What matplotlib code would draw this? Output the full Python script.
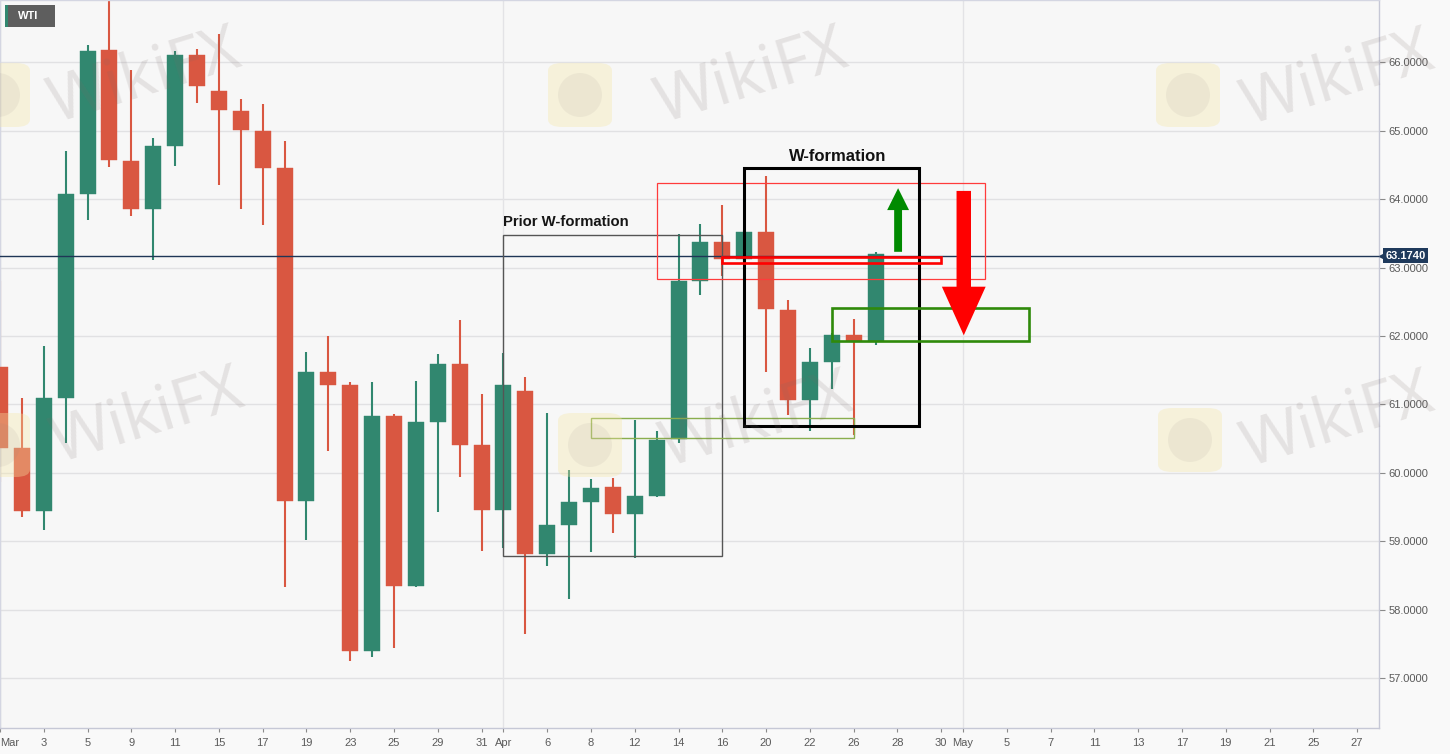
import numpy as np
import pandas as pd
import matplotlib
matplotlib.use("Agg")
import matplotlib.pyplot as plt
import matplotlib.transforms as mtransforms
from matplotlib.patches import Rectangle, Polygon, FancyBboxPatch, Ellipse

plt.rcParams['font.family'] = ['Liberation Sans', 'DejaVu Sans']

# ---------------- data ----------------
dates = ['2021-03-01', '2021-03-02', '2021-03-03', '2021-03-04', '2021-03-05',
         '2021-03-08', '2021-03-09', '2021-03-10', '2021-03-11', '2021-03-12',
         '2021-03-15', '2021-03-16', '2021-03-17', '2021-03-18', '2021-03-19',
         '2021-03-22', '2021-03-23', '2021-03-24', '2021-03-25', '2021-03-26',
         '2021-03-29', '2021-03-30', '2021-03-31', '2021-04-01', '2021-04-05',
         '2021-04-06', '2021-04-07', '2021-04-08', '2021-04-09', '2021-04-12',
         '2021-04-13', '2021-04-14', '2021-04-15', '2021-04-16', '2021-04-19',
         '2021-04-20', '2021-04-21', '2021-04-22', '2021-04-23', '2021-04-26',
         '2021-04-27']
opens = [61.54, 60.36, 59.44, 61.09, 64.07, 66.18, 64.56, 63.85, 64.78, 66.10,
         65.58, 65.29, 65.00, 64.45, 59.59, 61.47, 61.28, 57.40, 60.83, 58.35,
         60.74, 61.59, 60.40, 59.45, 61.19, 58.81, 59.23, 59.58, 59.79, 59.39,
         59.66, 60.49, 62.81, 63.38, 63.12, 63.52, 62.38, 61.07, 61.62, 62.02,
         61.93]
highs = [62.81, 61.09, 61.85, 64.70, 66.25, 67.40, 65.89, 64.89, 66.16, 66.19,
         66.41, 65.46, 65.39, 64.85, 61.76, 62.00, 61.32, 61.33, 60.86, 61.34,
         61.74, 62.23, 61.15, 61.75, 61.40, 60.87, 60.04, 59.91, 59.92, 60.77,
         60.61, 63.49, 63.63, 63.91, 63.55, 64.34, 62.52, 61.82, 62.05, 62.25,
         63.23]
lows = [59.87, 59.35, 59.17, 60.43, 63.69, 64.47, 63.76, 63.11, 64.49, 65.40,
        64.20, 63.86, 63.62, 58.33, 59.01, 60.32, 57.25, 57.30, 57.44, 58.33,
        59.42, 59.94, 58.86, 58.90, 57.65, 58.63, 58.15, 58.84, 59.12, 58.76,
        59.64, 60.43, 62.60, 62.88, 63.08, 61.48, 60.85, 60.61, 61.22, 60.55,
        61.87]
closes = [60.36, 59.44, 61.09, 64.07, 66.16, 64.57, 63.85, 64.78, 66.10, 65.66,
          65.30, 65.01, 64.45, 59.59, 61.47, 61.28, 57.40, 60.83, 58.35, 60.74,
          61.59, 60.40, 59.45, 61.28, 58.81, 59.23, 59.58, 59.78, 59.39, 59.66,
          60.48, 62.80, 63.38, 63.12, 63.52, 62.40, 61.07, 61.62, 62.02, 61.93,
          63.20]
last_price = 63.174

tick_dates = ['2021-03-01', '2021-03-03', '2021-03-05', '2021-03-09', '2021-03-11',
              '2021-03-15', '2021-03-17', '2021-03-19', '2021-03-23', '2021-03-25',
              '2021-03-29', '2021-03-31', '2021-04-01', '2021-04-06', '2021-04-08',
              '2021-04-12', '2021-04-14', '2021-04-16', '2021-04-20', '2021-04-22',
              '2021-04-26', '2021-04-28', '2021-04-30', '2021-05-03', '2021-05-05',
              '2021-05-07', '2021-05-11', '2021-05-13', '2021-05-17', '2021-05-19',
              '2021-05-21', '2021-05-25', '2021-05-27']
tick_labels = ['Mar', '3', '5', '9', '11', '15', '17', '19', '23', '25', '29', '31',
               'Apr', '6', '8', '12', '14', '16', '20', '22', '26', '28', '30',
               'May', '5', '7', '11', '13', '17', '19', '21', '25', '27']
month_starts = ['2021-03-01', '2021-04-01', '2021-05-03']
y_ticks = [57, 58, 59, 60, 61, 62, 63, 64, 65, 66]

# trading-day calendar (Good Friday closed)
cal = pd.bdate_range('2021-03-01', '2021-06-04')
cal = cal[cal != pd.Timestamp('2021-04-02')]
pos = {d.strftime('%Y-%m-%d'): i for i, d in enumerate(cal)}
def X(d):
    return pos[d]

GREEN = '#31876f'
RED = '#d95741'

W, H = 1450, 754
fig = plt.figure(figsize=(W / 100, H / 100), dpi=100, facecolor='#f9f9f9')
ax = fig.add_axes([0, 26 / H, 1379 / W, 728 / H])
ax.set_facecolor('#f7f7f7')
ax.set_xlim(0.0, 63.0)
ax.set_ylim(56.269, 66.911)

# grid
for yv in y_ticks:
    ax.axhline(yv, color='#e1e1e3', lw=1.0, zorder=0)
for m in month_starts:
    ax.axvline(X(m), color='#e3e3e6', lw=1.0, zorder=0)

# candles
xs = np.array([X(d) for d in dates])
o = np.array(opens); h = np.array(highs); l = np.array(lows); c = np.array(closes)
cols = np.where(c >= o, GREEN, RED)
ax.vlines(xs, l, h, colors=cols, lw=1.5, zorder=2)
ax.bar(xs, np.abs(c - o), bottom=np.minimum(o, c), width=0.73, color=cols,
       edgecolor=cols, lw=0.3, zorder=3)

# current price line
ax.axhline(last_price, color='#1f3656', lw=1.0, zorder=4)

# ---------- annotations ----------
def box(d0, d1, y0, y1, color, lw):
    ax.add_patch(Rectangle((X(d0), y0), X(d1) - X(d0), y1 - y0, fill=False,
                           edgecolor=color, lw=lw, zorder=6, clip_on=False))

box('2021-04-01', '2021-04-16', 58.79, 63.475, '#555555', 1.0)    # prior W
box('2021-04-13', '2021-05-04', 62.83, 64.23, '#ff3b3b', 0.9)     # red zone
box('2021-04-08', '2021-04-26', 60.51, 60.80, '#8aae4e', 1.0)     # thin green
box('2021-04-19', '2021-04-29', 60.68, 64.45, '#000000', 2.2)     # W-formation
box('2021-04-16', '2021-04-30', 63.07, 63.15, '#ff0000', 1.9)     # red bar
box('2021-04-23', '2021-05-06', 61.92, 62.41, '#2f8a0a', 1.9)     # green zone

# arrows (polygons in data units)
xg = X('2021-04-28') + 0.03
ax.add_patch(Polygon([(xg - 0.18, 63.23), (xg + 0.18, 63.23), (xg + 0.18, 63.84),
                      (xg + 0.50, 63.84), (xg, 64.16), (xg - 0.50, 63.84),
                      (xg - 0.18, 63.84)], closed=True, fc='#008a00', ec='none', zorder=7))
xr = X('2021-05-03') + 0.03
ax.add_patch(Polygon([(xr - 0.33, 64.12), (xr + 0.33, 64.12), (xr + 0.33, 62.72),
                      (xr + 1.00, 62.72), (xr, 62.01), (xr - 1.00, 62.72),
                      (xr - 0.33, 62.72)], closed=True, fc='#ff0000', ec='none', zorder=7))

ax.text(X('2021-04-01'), 63.607, 'Prior W-formation', ha='left', va='baseline',
        fontsize=10.7, fontweight='bold', color='#161616', zorder=8)
ax.text(38.29, 64.562, 'W-formation', ha='center', va='baseline',
        fontsize=12, fontweight='bold', color='#111111', zorder=8)

# ---------- axes styling ----------
for s in ['left', 'top']:
    ax.spines[s].set_color('#d4d6e2'); ax.spines[s].set_linewidth(1.0)
for s in ['right', 'bottom']:
    ax.spines[s].set_color('#c6c8d6'); ax.spines[s].set_linewidth(1.0)

ax.yaxis.tick_right()
ax.set_yticks(y_ticks)
ax.set_yticklabels(['%.4f' % v for v in y_ticks])
ax.tick_params(axis='y', direction='out', length=4, width=0.8, color='#8a8a8a',
               labelsize=8, labelcolor='#5a5a5a', pad=3)
ax.set_xticks([X(d) for d in tick_dates])
ax.set_xticklabels(tick_labels)
ax.tick_params(axis='x', direction='out', length=3, width=0.8, color='#8a8a8a',
               labelsize=8, labelcolor='#5a5a5a', pad=4)
ax.get_xticklabels()[0].set_ha('left')

# last price label
bt = mtransforms.blended_transform_factory(ax.transAxes, ax.transData)
ax.plot([1.0025], [last_price], marker='<', ms=4, color='#1f3a5c', transform=bt,
        clip_on=False, zorder=9)
ax.text(1.0048, last_price, '63.1740', transform=bt, ha='left', va='center',
        fontsize=8, fontweight='bold', color='white', zorder=10, clip_on=False,
        bbox=dict(boxstyle='square,pad=0.22', fc='#1f3a5c', ec='none'))

# WTI label
fig.patches.append(FancyBboxPatch((5 / W, 1 - 27 / H), 50 / W, 22 / H,
                                  boxstyle='square,pad=0', fc='#5e5e5e', ec='none',
                                  transform=fig.transFigure, zorder=20))
fig.patches.append(Rectangle((5 / W, 1 - 27 / H), 2.5 / W, 22 / H, fc='#31876f',
                             ec='none', transform=fig.transFigure, zorder=21))
fig.text(28 / W, 1 - 16 / H, 'WTI', ha='center', va='center', fontsize=8,
         fontweight='bold', color='white', zorder=22)

# watermarks
logo_pos = [(-2, 95), (580, 95), (1188, 95), (-2, 445), (590, 445), (1190, 440)]
for (px, py) in logo_pos:
    fig.patches.append(FancyBboxPatch(((px - 32) / W, 1 - (py + 32) / H), 64 / W, 64 / H,
                                      boxstyle='round,pad=0,rounding_size=0.01',
                                      fc='#f6e7a6', ec='none', alpha=0.35,
                                      transform=fig.transFigure, zorder=11))
    fig.patches.append(Ellipse((px / W, 1 - py / H), 44 / W, 44 / H, fc='#8a8080',
                               ec='none', alpha=0.09, transform=fig.transFigure, zorder=11))
wm_pos = [(145, 78), (752, 78), (1338, 80), (148, 418), (757, 422), (1338, 422)]
for (px, py) in wm_pos:
    fig.text(px / W, 1 - py / H, 'WikiFX', ha='center', va='center', rotation=17,
             fontsize=46, fontweight='bold', family=['Noto Sans', 'DejaVu Sans'],
             color='#7a6a68', alpha=0.15, zorder=12)

fig.savefig('out.png', dpi=100, facecolor=fig.get_facecolor())
